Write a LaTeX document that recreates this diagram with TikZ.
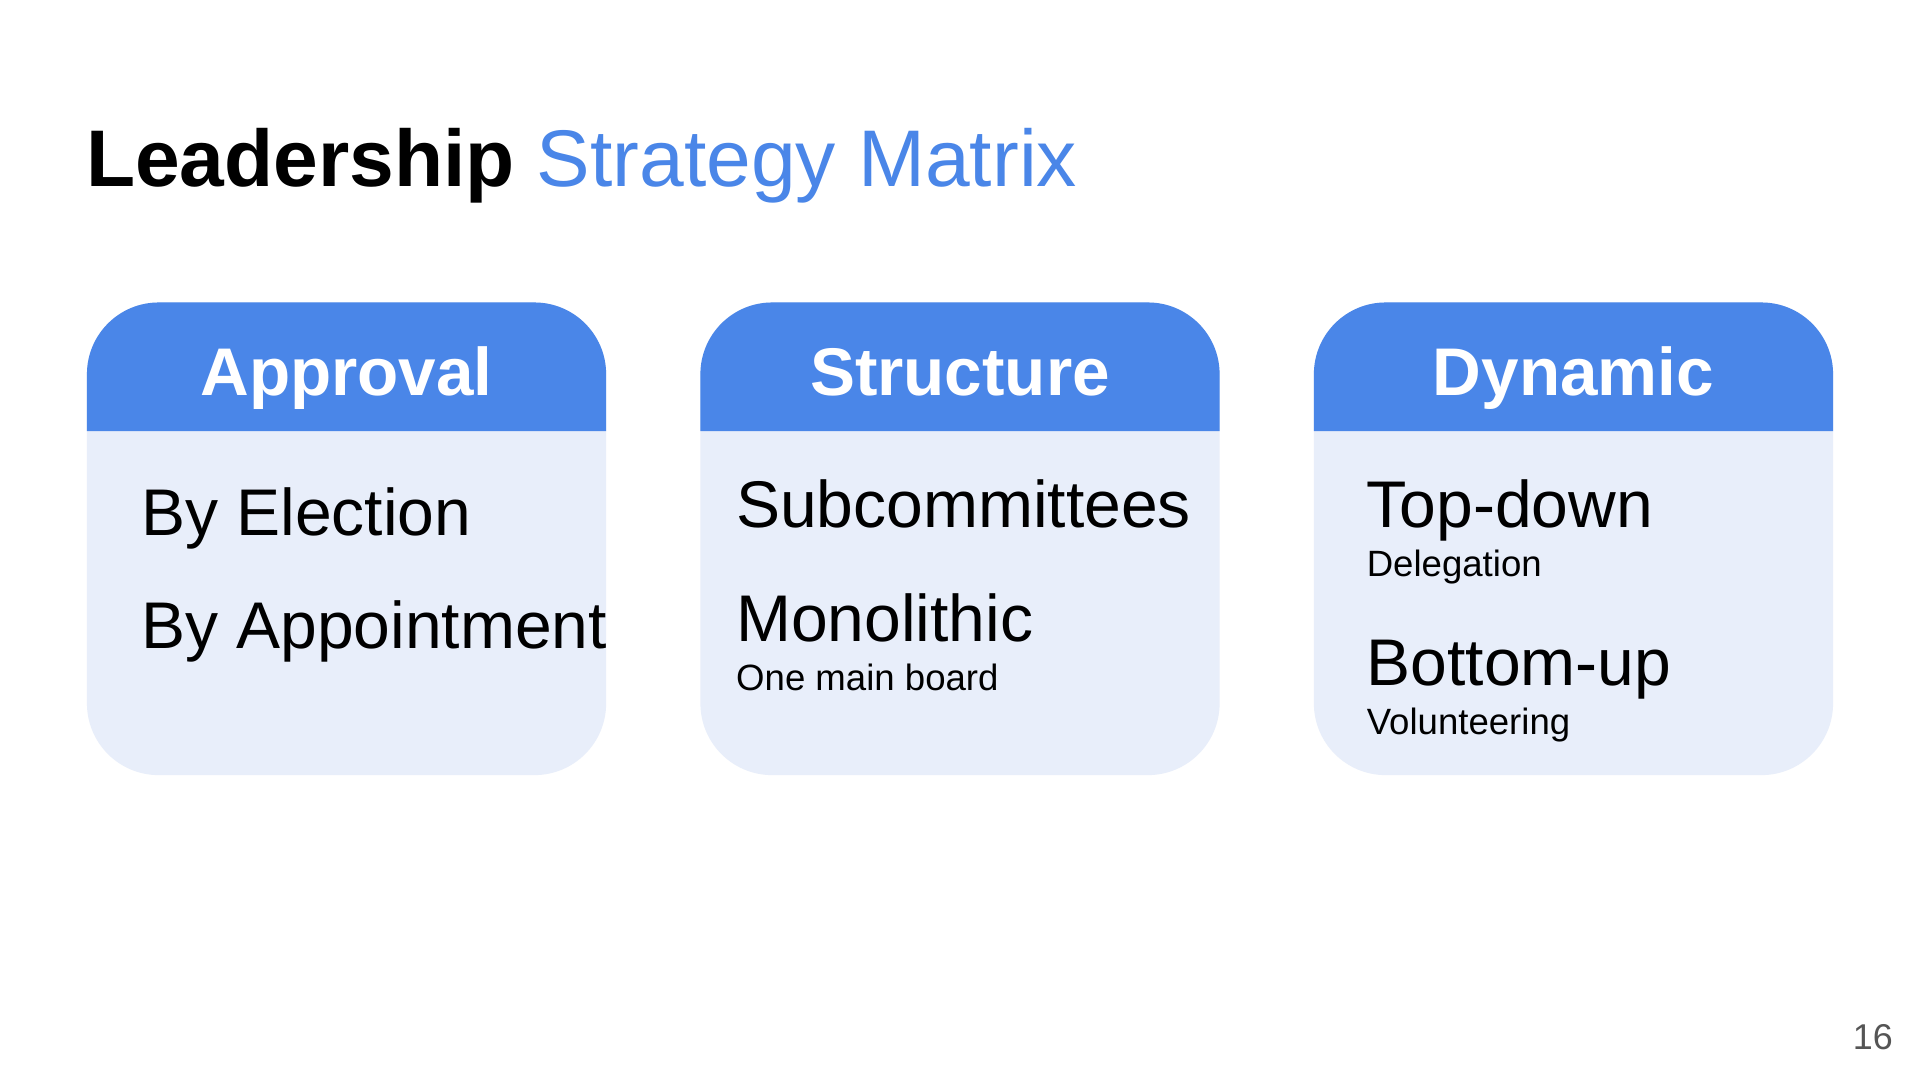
\documentclass[tikz,border=0pt]{standalone}
\usepackage{fontspec}
\setmainfont{Liberation Sans}
\definecolor{hblue}{HTML}{4A86E8}
\definecolor{lblue}{HTML}{E8EEFA}
\definecolor{pgray}{HTML}{555555}
\begin{document}
\begin{tikzpicture}[x=0.03cm,y=-0.03cm,
  txt/.style={anchor=base west,inner sep=0pt},
  big/.style={txt,font=\fontsize{46}{50}\selectfont},
  small/.style={txt,font=\fontsize{25.5}{28}\selectfont},
  head/.style={inner sep=0pt,anchor=base,text=white,font=\fontsize{47}{50}\selectfont\bfseries}]
\useasboundingbox (0,0) rectangle (1568,882);
\fill[white] (0,0) rectangle (1568,882);
\node[txt,font=\fontsize{56}{60}\selectfont] (title) at (70,152) {\textbf{Leadership} \textcolor{hblue}{Strategy Matrix}};
\foreach \x/\n/\t in {71/a/Approval,572/b/Structure,1073/c/Dynamic}{
  \fill[lblue,rounded corners=50] (\x,247) rectangle ++(424,386);
  \fill[hblue] (\x,352) [rounded corners=50]-- (\x,247) -- (\x+424,247) [sharp corners]-- (\x+424,352) -- cycle;
  \node[head] (h\n) at (\x+212,323) {\t};
}
\node[big] (a1) at (115,437) {By Election};
\node[big] (a2) at (115,530) {By Appointment};
\node[big] (b1) at (601,431) {Subcommittees};
\node[big] (b2) at (601,524) {Monolithic};
\node[small] (b3) at (601,564) {One main board};
\node[big] (c1) at (1116,431) {Top-down};
\node[small] (c2) at (1116,471) {Delegation};
\node[big] (c3) at (1116,560) {Bottom-up};
\node[small] (c4) at (1116,600) {Volunteering};
\node[inner sep=0pt,anchor=base east,text=pgray,font=\fontsize{25}{28}\selectfont] (pn) at (1546,857) {16};
\end{tikzpicture}
\end{document}
